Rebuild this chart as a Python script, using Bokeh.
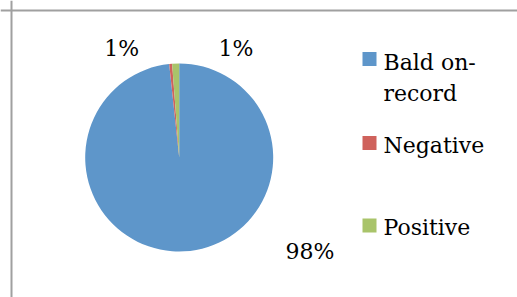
import numpy as np
from bokeh.plotting import figure
from bokeh.models import Range1d, Span, ColumnDataSource
from bokeh.core.properties import value
from bokeh.embed import file_html
from bokeh.resources import INLINE

categories = ["Bald on-record", "Negative", "Positive"]
shares = [98.3, 0.5, 1.2]
pct_labels = ["98%", "1%", "1%"]
legend_lines = [["Bald on-", "record"], ["Negative"], ["Positive"]]
colors = ["#5E96CA", "#CF625C", "#A9C46A"]

W, H = 517, 297
FONT = value("DejaVu Serif")

p = figure(width=W, height=H, output_backend="svg", toolbar_location=None,
           x_range=Range1d(0, W), y_range=Range1d(0, H), min_border=0)
p.axis.visible = False
p.grid.visible = False
p.outline_line_color = None
p.background_fill_color = "white"

# chart border (only top/left visible)
p.add_layout(Span(location=11, dimension="height", line_color="#A0A0A0", line_width=2))
p.add_layout(Span(location=H - 10, dimension="width", line_color="#A0A0A0", line_width=2))

# pie
cx, cy, r = 178.7, 140, 94
frac = np.array(shares) / np.sum(shares)
cum = np.concatenate([[0], np.cumsum(frac)])
starts = np.pi / 2 - 2 * np.pi * cum[:-1]
ends = np.pi / 2 - 2 * np.pi * cum[1:]
src = ColumnDataSource(dict(start=starts, end=ends, color=colors, cat=categories))
p.wedge(x=cx, y=cy, radius=r, start_angle="start", end_angle="end",
        direction="clock", fill_color="color", line_color=None, source=src)

# data labels (outside end, best fit positions)
label_pos = [(309.5, 46), (121.3, 249), (235.5, 249)]
p.text(x=[q[0] for q in label_pos], y=[q[1] for q in label_pos], text=pct_labels,
       text_font=FONT, text_font_size="22px", text_color="#000000",
       text_align="center", text_baseline="middle")

# legend
sq_y = [238.5, 154.5, 72]
p.rect(x=[369] * 3, y=sq_y, width=14, height=14, fill_color=colors, line_color=None)
lx, ly, lt = [], [], []
mids = [235, 152, 70.5]
for m, lines in zip(mids, legend_lines):
    for i, t in enumerate(lines):
        lx.append(383)
        ly.append(m - 31 * i)
        lt.append(t)
p.text(x=lx, y=ly, text=lt, text_font=FONT, text_font_size="22px",
       text_color="#000000", text_align="left", text_baseline="middle")

open("out.html", "w").write(file_html(p, INLINE))
